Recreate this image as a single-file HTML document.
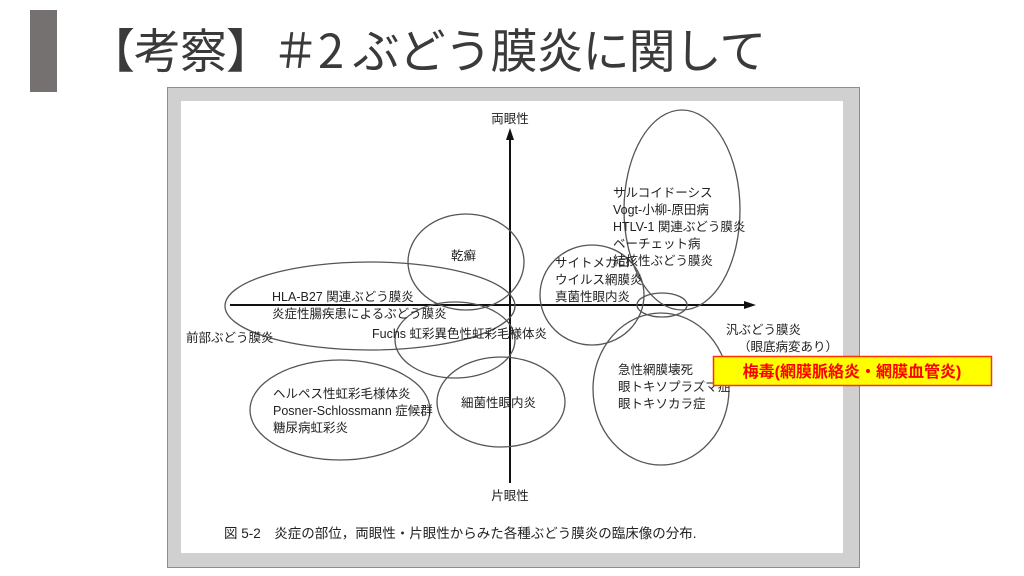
<!DOCTYPE html>
<html><head><meta charset="utf-8"><style>
html,body{margin:0;padding:0;background:#fff;}
body{width:1024px;height:576px;overflow:hidden;position:relative;font-family:"Liberation Sans","Noto Sans CJK JP",sans-serif;}
</style></head><body>
<div style="position:absolute;left:30px;top:10px;width:27px;height:82px;background:#767171"></div>
<div style="position:absolute;left:88px;top:16px;font-size:47px;color:#3a3a3a;white-space:nowrap;font-family:'Noto Sans CJK JP',sans-serif;font-weight:400;line-height:64px;letter-spacing:-1px">【考察】＃2 ぶどう膜炎に関して</div>
<svg style="position:absolute;left:0;top:0" width="1024" height="576" font-family="Liberation Sans, Noto Sans CJK JP, sans-serif">
<rect x="167.5" y="87.5" width="692" height="480" fill="#d0d0d0" stroke="#7f8fa6" stroke-width="1"/>
<rect x="181" y="101" width="662" height="452" fill="#fff"/>
<g stroke="#111" stroke-width="2">
<line x1="510" y1="138" x2="510" y2="483"/>
<line x1="230" y1="305" x2="748" y2="305"/>
</g>
<polygon points="510,128 506,140 514,140" fill="#111"/>
<polygon points="756,305 744,301 744,309" fill="#111"/>
<g fill="none" stroke="#555" stroke-width="1.3">
<ellipse cx="682" cy="210" rx="58" ry="100"/>
<ellipse cx="466" cy="262" rx="58" ry="48"/>
<ellipse cx="370" cy="306" rx="145" ry="44"/>
<ellipse cx="455" cy="340" rx="60" ry="38"/>
<ellipse cx="592" cy="295" rx="52" ry="50"/>
<ellipse cx="662" cy="305" rx="25" ry="12"/>
<ellipse cx="661" cy="389" rx="68" ry="76"/>
<ellipse cx="340" cy="410" rx="90" ry="50"/>
<ellipse cx="501" cy="402" rx="64" ry="45"/>
</g>
<g fill="#222" font-size="12.5">
<text x="510" y="123" text-anchor="middle">両眼性</text>
<text x="510" y="500" text-anchor="middle">片眼性</text>
<text x="613" y="197">サルコイドーシス</text>
<text x="613" y="214">Vogt-小柳-原田病</text>
<text x="613" y="231">HTLV-1 関連ぶどう膜炎</text>
<text x="613" y="248">ベーチェット病</text>
<text x="613" y="265">結核性ぶどう膜炎</text>
<text x="451" y="260">乾癬</text>
<text x="555" y="267">サイトメガロ</text>
<text x="555" y="284">ウイルス網膜炎</text>
<text x="555" y="301">真菌性眼内炎</text>
<text x="272" y="301">HLA-B27 関連ぶどう膜炎</text>
<text x="272" y="318">炎症性腸疾患によるぶどう膜炎</text>
<text x="372" y="338">Fuchs 虹彩異色性虹彩毛様体炎</text>
<text x="186" y="342">前部ぶどう膜炎</text>
<text x="726" y="334">汎ぶどう膜炎</text>
<text x="738" y="351">（眼底病変あり）</text>
<text x="618" y="374">急性網膜壊死</text>
<text x="618" y="391">眼トキソプラズマ症</text>
<text x="618" y="408">眼トキソカラ症</text>
<text x="273" y="398">ヘルペス性虹彩毛様体炎</text>
<text x="273" y="415">Posner-Schlossmann 症候群</text>
<text x="273" y="432">糖尿病虹彩炎</text>
<text x="461" y="407">細菌性眼内炎</text>
<text x="224" y="538" font-size="13.5">図 5-2　炎症の部位，両眼性・片眼性からみた各種ぶどう膜炎の臨床像の分布.</text>
</g>
<rect x="713.5" y="356.5" width="278" height="29" fill="#ffff00" stroke="#ff3300" stroke-width="1.5"/>
<text x="852" y="377" text-anchor="middle" font-size="16" font-weight="bold" fill="#ff0000">梅毒(網膜脈絡炎・網膜血管炎)</text>
</svg>
</body></html>
